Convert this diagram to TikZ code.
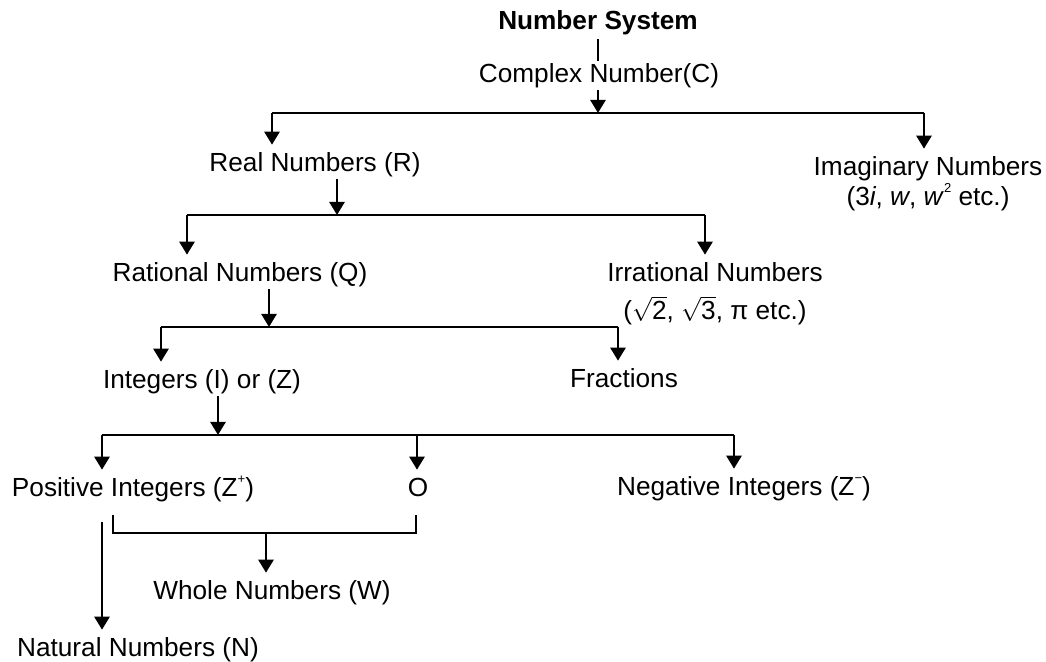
\documentclass[tikz,border=0pt]{standalone}
\usepackage{amsmath}
\usepackage{fontspec}
\setmainfont{Liberation Sans}
\usetikzlibrary{arrows.meta, positioning}

\newcommand{\supsign}[1]{\raisebox{0.5em}{\fontsize{6.5}{7}\selectfont #1}}

\begin{document}
\begin{tikzpicture}[x=0.5pt,y=-0.5pt,>={Triangle[width=7.5pt,length=6.5pt]},line width=1.3pt,
	lbl/.style={font=\fontsize{13.1}{15.7}\selectfont,inner xsep=1pt,inner ysep=3pt,text height=10pt,text depth=3pt},
	feed/.style={->,shorten <=-3pt}]

	\useasboundingbox (0,0) rectangle (1046,662);

	\node[lbl,font=\fontsize{13.1}{15.7}\selectfont\bfseries] (ns) at (598,23) {Number System};
	\node[lbl] (cn) at (599,76) {Complex Number(C)};
	\node[lbl] (real) at (315,165) {Real Numbers (R)};
	\node[lbl] (imag) at (928,169) {Imaginary Numbers};
	\node[lbl] (imag2) [below=-5.3pt of imag] {(3\textit{i}, \textit{w}, \textit{w}\supsign{2} etc.)};
	\node[lbl] (rat) at (240,275) {Rational Numbers (Q)};
	\node[lbl] (irr) at (715,275) {Irrational Numbers};
	\node[lbl] (irr2) [below=-1.5pt of irr] {($\sqrt{\text{2}}$, $\sqrt{\text{3}}$, π etc.)};
	\node[lbl] (integ) at (202,382) {Integers (I) or (Z)};
	\node[lbl] (frac) at (624,381) {Fractions};
	\node[lbl] (pos) at (133,490) {Positive Integers (Z\supsign{+})};
	\node[lbl] (zero) at (418,490) {O};
	\node[lbl] (neg) at (744,489) {Negative Integers (Z\supsign{\textminus})};
	\node[lbl] (whole) at (272,593) {Whole Numbers (W)};
	\node[lbl] (nat) at (138,650) {Natural Numbers (N)};

	\coordinate (jc) at (598,113);
	\coordinate (dr) at (272,113);
	\coordinate (di) at (924,113);
	\coordinate (jr) at (337,215);
	\coordinate (dq) at (187,215);
	\coordinate (dirr) at (705,215);
	\coordinate (jq) at (269,327);
	\coordinate (dz) at (161,327);
	\coordinate (df) at (618,327);
	\coordinate (jz) at (218,435);
	\coordinate (dp) at (102,435);
	\coordinate (do) at (417,435);
	\coordinate (dn) at (734,435);
	\coordinate (bl) at (113,515);
	\coordinate (br) at (416,515);
	\coordinate (bm) at (266,533);

	\draw[shorten <=-2pt,shorten >=-2.5pt] (ns.south) -- (ns.south |- cn.north);
	\draw[feed] (cn.south -| jc) -- (jc);
	\draw (dr) -- (di);
	\draw[->] (dr) -- (dr |- real.north);
	\draw[->] (di) -- (di |- imag.north);

	\draw[feed] (real.south -| jr) -- (jr);
	\draw (dq) -- (dirr);
	\draw[->] (dq) -- (dq |- rat.north);
	\draw[->] (dirr) -- (dirr |- irr.north);

	\draw[feed] (rat.south -| jq) -- (jq);
	\draw (dz) -- (df);
	\draw[->] (dz) -- (dz |- integ.north);
	\draw[->] (df) -- (df |- frac.north);

	\draw[feed] (integ.south -| jz) -- (jz);
	\draw (dp) -- (dn);
	\draw[->] (dp) -- (dp |- pos.north);
	\draw[->] (do) -- (do |- zero.north);
	\draw[->] (dn) -- (dn |- neg.north);

	\draw[->,shorten <=6pt] (pos.south -| dp) -- (dp |- nat.north);
	\draw (bl) |- (bm) -| (br);
	\draw[->] (bm) -- (bm |- whole.north);

\end{tikzpicture}
\end{document}
